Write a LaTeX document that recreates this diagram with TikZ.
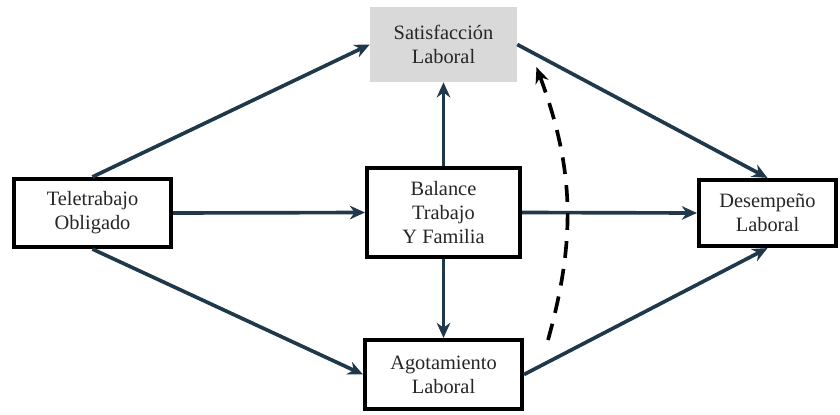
\documentclass[tikz,border=0pt]{standalone}
\usepackage{fontspec}
\newfontfamily\timesfont{Liberation Serif}
\usepackage{xcolor}
\usepackage{tikz}
\usetikzlibrary{arrows.meta, positioning, calc}
\definecolor{mynavy}{RGB}{31,56,74}
\definecolor{mygray}{RGB}{217,217,217}
\definecolor{mytext}{RGB}{38,38,38}
\tikzset{
  block/.style={rectangle, draw=black, fill=white, align=center,
    font=\timesfont\fontsize{14.5}{17}\selectfont, text=mytext, line width=3pt, inner sep=0pt},
  grayblock/.style={rectangle, fill=mygray, align=center,
    font=\timesfont\fontsize{14.5}{17}\selectfont, text=mytext, inner sep=0pt},
  arrow/.style={-{Stealth[length=0.38cm, width=0.34cm]}, line width=2.6pt, color=mynavy},
  dasharrow/.style={-{Stealth[length=0.4cm, width=0.34cm]}, line width=2.6pt,
    color=black, dash pattern=on 0.42cm off 0.28cm}
}

\begin{document}
\begin{tikzpicture}
  \useasboundingbox (0,0) rectangle (21,10.35);
  % Nodes
  \node (tele) at (2.3125,5.025) [block, minimum width=3.92cm, minimum height=1.7cm] {Teletrabajo\\Obligado};
  \node (sat) at (11.0875,9.2375) [grayblock, minimum width=3.675cm, minimum height=1.875cm] {Satisfacción\\Laboral};
  \node (bal) at (11.0875,5.0375) [block, minimum width=3.82cm, minimum height=2.22cm] {Balance\\Trabajo\\Y Familia};
  \node (ago) at (11.0875,0.9875) [block, minimum width=3.92cm, minimum height=1.72cm] {Agotamiento\\Laboral};
  \node (des) at (19.1875,5.025) [block, minimum width=3.42cm, minimum height=1.65cm] {Desempeño\\Laboral};
  % Paths from Teletrabajo
  \draw[arrow] (tele.north) -- (sat.west);
  \draw[arrow] (tele.east) -- (bal.west);
  \draw[arrow] (tele.south) -- (ago.west);
  % Paths from Balance
  \draw[arrow] (bal.north) -- (sat.south);
  \draw[arrow] (bal.south) -- (ago.north);
  \draw[arrow] (bal.east) -- (des.west);
  % Paths to Desempeno
  \draw[arrow] (sat.east) -- (des.north);
  \draw[arrow] (ago.east) -- (des.south);
  % Dashed link
  \draw[dasharrow] ([shift={(0.6,-0.05)}]ago.north east) to[bend right=18] ([shift={(0.48,0.38)}]sat.south east);
\end{tikzpicture}
\end{document}
